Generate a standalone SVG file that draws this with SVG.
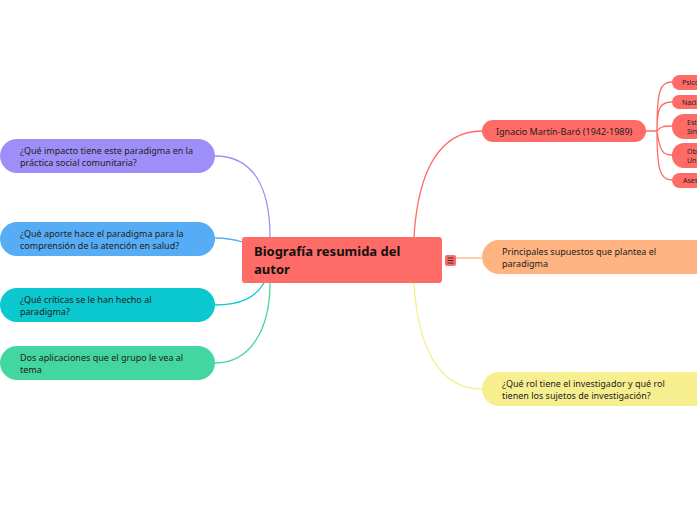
<svg xmlns="http://www.w3.org/2000/svg" width="697" height="520" viewBox="0 0 697 520">
<style>
text{font-family:"Noto Sans","Open Sans","Liberation Sans",sans-serif;fill:#222;}
.t{font-size:9px;}
.s{font-size:7px;}
.c{fill:none;stroke-width:1.3;}
</style>
<rect width="697" height="520" fill="#fff"/>
<g id="connectors">
<path class="c" stroke="#9e8ff8" d="M215,156 C252,156 270,185 270,237"/>
<path class="c" stroke="#56adf5" d="M215,238 C228,238 236,240 243,242"/>
<path class="c" stroke="#0bc8cf" d="M215,305 C240,305 255,298 264,283"/>
<path class="c" stroke="#44d6a0" d="M215,363 C250,363 270,330 270,283"/>
<path class="c" stroke="#ff6b66" d="M414,237 C418,170 440,131 482,131"/>
<path class="c" stroke="#ffb380" d="M456,258 L482,258"/>
<path class="c" stroke="#f7ef8f" d="M414,283 C418,350 440,389 482,389"/>
<path class="c" stroke="#ff6b66" stroke-width="1" d="M646,131 L657,131 M657,131 C657,90 660,82 672,82 M657,131 C657,108 660,102 672,102 M657,131 C660,127 663,126 672,126 M657,131 C660,152 663,155 672,155 M657,131 C657,170 660,180 672,180"/>
</g>
<g id="central">
<rect x="242" y="237" width="200" height="46" rx="3" fill="#ff6b66"/>
<text x="254" y="256" font-size="13" font-weight="bold" style="fill:#111">Biografía resumida del</text>
<text x="254" y="274" font-size="13" font-weight="bold" style="fill:#111">autor</text>
</g>
<g id="menu-icon">
<rect x="445" y="255" width="11" height="11" rx="2" fill="#ff6b66"/>
<path d="M447.5,258 h6 M447.5,260.5 h6 M447.5,263 h6" stroke="#333" stroke-width="1"/>
</g>
<g id="n-impacto">
<rect x="0" y="139" width="215" height="34" rx="17" fill="#9e8ff8"/>
<text class="t" x="20" y="154">¿Qué impacto tiene este paradigma en la</text>
<text class="t" x="20" y="166">práctica social comunitaria?</text>
</g>
<g id="n-aporte">
<rect x="0" y="222" width="215" height="34" rx="17" fill="#56adf5"/>
<text class="t" x="20" y="237">¿Qué aporte hace el paradigma para la</text>
<text class="t" x="20" y="249">comprensión de la atención en salud?</text>
</g>
<g id="n-criticas">
<rect x="0" y="288" width="215" height="34" rx="17" fill="#0bc8cf"/>
<text class="t" x="20" y="303">¿Qué críticas se le han hecho al</text>
<text class="t" x="20" y="315">paradigma?</text>
</g>
<g id="n-aplicaciones">
<rect x="0" y="346" width="215" height="34" rx="17" fill="#44d6a0"/>
<text class="t" x="20" y="361">Dos aplicaciones que el grupo le vea al</text>
<text class="t" x="20" y="373">tema</text>
</g>
<g id="n-ignacio">
<rect x="482" y="120" width="164" height="22" rx="11" fill="#ff6b66"/>
<text class="t" x="496" y="135">Ignacio Martín-Baró (1942-1989)</text>
</g>
<g id="n-supuestos">
<rect x="482" y="240" width="230" height="34" rx="17" fill="#ffb380"/>
<text class="t" x="502" y="255">Principales supuestos que plantea el</text>
<text class="t" x="502" y="267">paradigma</text>
</g>
<g id="n-rol">
<rect x="482" y="372" width="230" height="34" rx="17" fill="#f7ef8f"/>
<text class="t" x="502" y="387">¿Qué rol tiene el investigador y qué rol</text>
<text class="t" x="502" y="399">tienen los sujetos de investigación?</text>
</g>
<g id="n-psico">
<rect x="672" y="75" width="40" height="15" rx="7.5" fill="#ff6b66"/>
<text class="s" x="682" y="85">Psico</text>
</g>
<g id="n-nacio">
<rect x="672" y="95" width="40" height="14" rx="7" fill="#ff6b66"/>
<text class="s" x="682" y="105">Nacio</text>
</g>
<g id="n-est">
<rect x="672" y="114" width="40" height="25" rx="12" fill="#ff6b66"/>
<text class="s" x="687" y="125">Est</text>
<text class="s" x="687" y="134">Sin</text>
</g>
<g id="n-ob">
<rect x="672" y="143" width="40" height="25" rx="12" fill="#ff6b66"/>
<text class="s" x="687" y="154">Ob</text>
<text class="s" x="687" y="163">Un</text>
</g>
<g id="n-ases">
<rect x="672" y="173" width="40" height="15" rx="7.5" fill="#ff6b66"/>
<text class="s" x="683" y="183">Ases</text>
</g>
</svg>
